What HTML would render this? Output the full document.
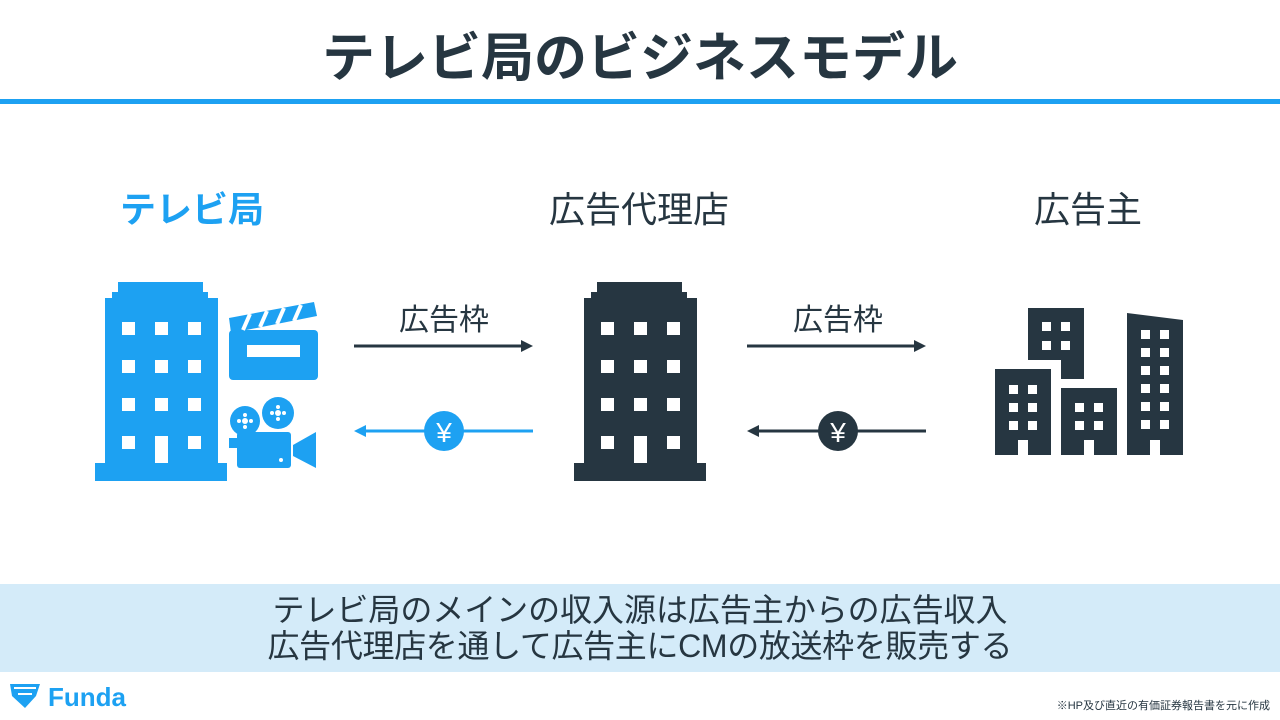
<!DOCTYPE html>
<html><head><meta charset="utf-8"><style>
body{margin:0;width:1280px;height:720px;background:#fff;overflow:hidden;font-family:"Liberation Sans","Noto Sans CJK JP",sans-serif}
svg{position:absolute;left:0;top:0}
</style></head><body>
<svg width="1280" height="720" viewBox="0 0 1280 720" font-family="Liberation Sans, Noto Sans CJK JP, sans-serif">
<text x="640" y="76" text-anchor="middle" font-size="53" font-weight="bold" fill="#263641">テレビ局のビジネスモデル</text>
<rect x="0" y="99" width="1280" height="5" fill="#1da1f2"/>
<text x="192" y="222" text-anchor="middle" font-size="36" font-weight="bold" fill="#1da1f2">テレビ局</text>
<text x="639" y="222" text-anchor="middle" font-size="36" fill="#263641">広告代理店</text>
<text x="1088" y="222" text-anchor="middle" font-size="36" fill="#263641">広告主</text>
<defs>
<g id="bld">
<rect x="118" y="282" width="85" height="12"/>
<rect x="112" y="292" width="96" height="8"/>
<rect x="105" y="298" width="113" height="170"/>
<rect x="95" y="463" width="132" height="18"/>
<g fill="#fff">
<rect x="122" y="322" width="13" height="13"/><rect x="155" y="322" width="13" height="13"/><rect x="188" y="322" width="13" height="13"/>
<rect x="122" y="360" width="13" height="13"/><rect x="155" y="360" width="13" height="13"/><rect x="188" y="360" width="13" height="13"/>
<rect x="122" y="398" width="13" height="13"/><rect x="155" y="398" width="13" height="13"/><rect x="188" y="398" width="13" height="13"/>
<rect x="122" y="436" width="13" height="13"/><rect x="155" y="436" width="13" height="27"/><rect x="188" y="436" width="13" height="13"/>
</g></g>
</defs>
<g fill="#1da1f2"><use href="#bld"/>
<rect x="229" y="330" width="89" height="50" rx="4"/>
<polygon points="229,318 314,302 317,316 231,333"/>
<rect x="247" y="345" width="53" height="12" fill="#fff"/>
<g stroke="#fff" stroke-width="4"><line x1="243" y1="330" x2="250" y2="314"/><line x1="260" y1="327" x2="267" y2="311"/><line x1="277" y1="324" x2="284" y2="308"/><line x1="294" y1="321" x2="301" y2="305"/></g>
<circle cx="245" cy="421" r="15"/><circle cx="278" cy="413" r="16"/>
<g fill="#fff"><circle cx="245" cy="421" r="3"/><circle cx="239" cy="421" r="2"/><circle cx="251" cy="421" r="2"/><circle cx="245" cy="415" r="2"/><circle cx="245" cy="427" r="2"/>
<circle cx="278" cy="413" r="3"/><circle cx="272" cy="413" r="2"/><circle cx="284" cy="413" r="2"/><circle cx="278" cy="407" r="2"/><circle cx="278" cy="419" r="2"/></g>
<rect x="237" y="432" width="54" height="36" rx="3"/>
<rect x="229" y="438" width="10" height="10"/>
<polygon points="293,445 316,432 316,468 293,456"/>
<circle cx="281" cy="460" r="2" fill="#fff"/>
</g>
<g fill="#263641"><use href="#bld" transform="translate(479,0)"/></g>
<g fill="#263641">
<rect x="1028" y="308" width="56" height="52"/><rect x="1061" y="355" width="23" height="24"/>
<rect x="995" y="369" width="56" height="86"/>
<rect x="1061" y="388" width="56" height="67"/>
<polygon points="1127,313 1183,320 1183,455 1127,455"/>
<g fill="#fff">
<rect x="1042" y="322" width="9" height="9"/><rect x="1061" y="322" width="9" height="9"/><rect x="1042" y="341" width="9" height="9"/><rect x="1061" y="341" width="9" height="9"/>
<rect x="1009" y="385" width="9" height="9"/><rect x="1028" y="385" width="9" height="9"/><rect x="1009" y="403" width="9" height="9"/><rect x="1028" y="403" width="9" height="9"/><rect x="1009" y="421" width="9" height="9"/><rect x="1028" y="421" width="9" height="9"/><rect x="1018" y="440" width="10" height="15"/>
<rect x="1075" y="403" width="9" height="9"/><rect x="1094" y="403" width="9" height="9"/><rect x="1075" y="421" width="9" height="9"/><rect x="1094" y="421" width="9" height="9"/><rect x="1084" y="440" width="10" height="15"/>
<rect x="1141" y="330" width="9" height="9"/><rect x="1160" y="330" width="9" height="9"/>
<rect x="1141" y="348" width="9" height="9"/><rect x="1160" y="348" width="9" height="9"/>
<rect x="1141" y="366" width="9" height="9"/><rect x="1160" y="366" width="9" height="9"/>
<rect x="1141" y="384" width="9" height="9"/><rect x="1160" y="384" width="9" height="9"/>
<rect x="1141" y="402" width="9" height="9"/><rect x="1160" y="402" width="9" height="9"/>
<rect x="1141" y="420" width="9" height="9"/><rect x="1160" y="420" width="9" height="9"/>
<rect x="1150" y="440" width="10" height="15"/>
</g></g>
<text x="444" y="330" text-anchor="middle" font-size="30" fill="#263641">広告枠</text>
<text x="838" y="330" text-anchor="middle" font-size="30" fill="#263641">広告枠</text>
<g fill="#263641" stroke="#263641" stroke-width="3">
<line x1="354" y1="346" x2="524" y2="346"/><polygon points="533,346 521,340 521,352" stroke="none"/>
<line x1="747" y1="346" x2="917" y2="346"/><polygon points="926,346 914,340 914,352" stroke="none"/>
<line x1="757" y1="431" x2="926" y2="431"/><polygon points="747,431 759,425 759,437" stroke="none"/>
<circle cx="838" cy="431" r="20" stroke="none"/>
</g>
<g fill="#1da1f2" stroke="#1da1f2" stroke-width="3">
<line x1="364" y1="431" x2="533" y2="431"/><polygon points="354,431 366,425 366,437" stroke="none"/>
<circle cx="444" cy="431" r="20" stroke="none"/>
</g>
<text x="444" y="442" text-anchor="middle" font-size="28" fill="#fff">¥</text>
<text x="838" y="442" text-anchor="middle" font-size="28" fill="#fff">¥</text>
<rect x="0" y="584" width="1280" height="88" fill="#d4ebf9"/>
<text x="640" y="621" text-anchor="middle" font-size="32" fill="#263641" textLength="735">テレビ局のメインの収入源は広告主からの広告収入</text>
<text x="640" y="657" text-anchor="middle" font-size="32" fill="#263641" textLength="745">広告代理店を通して広告主にCMの放送枠を販売する</text>
<path d="M10,684 L40,684 L36,696 L25,708 L12,696 Z" fill="#1da1f2"/>
<path d="M14,688 L36,688 M18,694 L32,694" stroke="#fff" stroke-width="2"/>
<text x="48" y="706" font-size="26" font-weight="bold" fill="#1da1f2">Funda</text>
<text x="1270" y="709" text-anchor="end" font-size="11" fill="#263641">※HP及び直近の有価証券報告書を元に作成</text>
</svg>
</body></html>
